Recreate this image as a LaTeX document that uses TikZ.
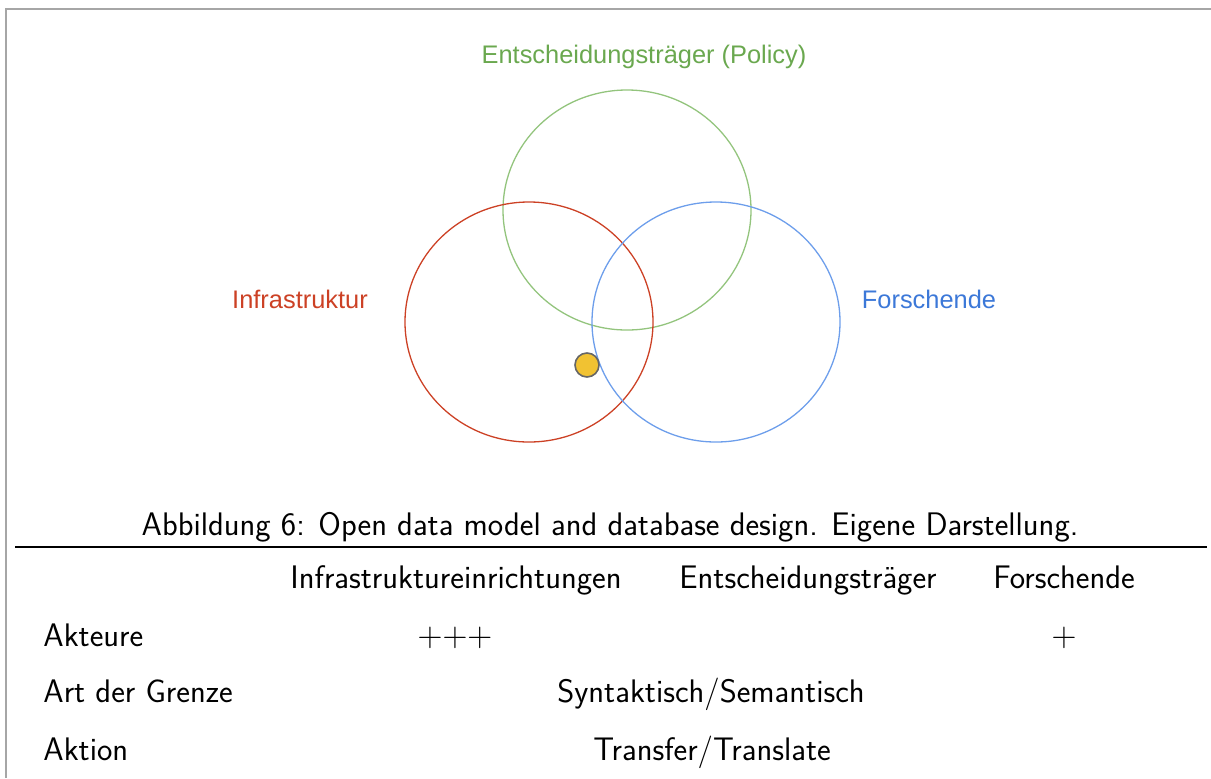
\documentclass[tikz,border=0pt]{standalone}
\usepackage{fontspec}
\newfontfamily\arialfont{Liberation Sans}
\usetikzlibrary{shapes.geometric}
\definecolor{infrared}{RGB}{204,65,37}
\definecolor{policygreen}{RGB}{147,196,125}
\definecolor{policytext}{RGB}{106,168,79}
\definecolor{researchblue}{RGB}{109,158,235}
\definecolor{researchtext}{RGB}{60,120,216}
\definecolor{dotyellow}{RGB}{241,194,50}

\begin{document}
\begin{tikzpicture}[
  x=0.5pt, y=-0.5pt,
  ring/.style={draw, ellipse, line width=0.65pt, minimum width=124pt, minimum height=120pt, inner sep=0pt},
  group/.style={font=\arialfont\fontsize{12.7}{15}\selectfont, anchor=base},
  cell/.style={font=\sffamily\fontsize{16.3}{19}\selectfont, anchor=base, inner sep=0pt},
  rowhead/.style={cell, anchor=base west}
]
\useasboundingbox (0,0) rectangle (1211,778);

% frame
\draw[gray!70, line width=1pt] (6,778) -- (6,9) -- (1211,9);

% venn
\node[ring, draw=policygreen] (policy) at (627,210) {};
\node[ring, draw=infrared] (infra) at (529,322) {};
\node[ring, draw=researchblue] (research) at (716,322) {};
\node[circle, draw=black!60, fill=dotyellow, line width=0.8pt, minimum size=12pt, inner sep=0pt] (dot) at (587,365) {};

\node[group, text=policytext] (policylab) at (644,63) {Entscheidungsträger (Policy)};
\node[group, text=infrared] (infralab) at (300,308) {Infrastruktur};
\node[group, text=researchtext] (researchlab) at (929,308) {Forschende};

% caption and table
\node[cell] (caption) at (610,535) {Abbildung 6: Open data model and database design. Eigene Darstellung.};
\draw[line width=0.6pt] (15,547) -- (1207,547);

\node[cell] (h1) at (456,588) {Infrastruktureinrichtungen};
\node[cell] (h2) at (808,588) {Entscheidungsträger};
\node[cell] (h3) at (1064,588) {Forschende};

\node[rowhead] (r1) at (43,646) {Akteure};
\node[cell] (r1a) at (455,646) {$+{+}+$};
\node[cell] (r1c) at (1064,646) {$+$};

\node[rowhead] (r2) at (43,702) {Art der Grenze};
\node[cell] (r2a) at (711,702) {Syntaktisch/Semantisch};

\node[rowhead] (r3) at (43,760) {Aktion};
\node[cell] (r3a) at (712,760) {Transfer/Translate};

\end{tikzpicture}
\end{document}
